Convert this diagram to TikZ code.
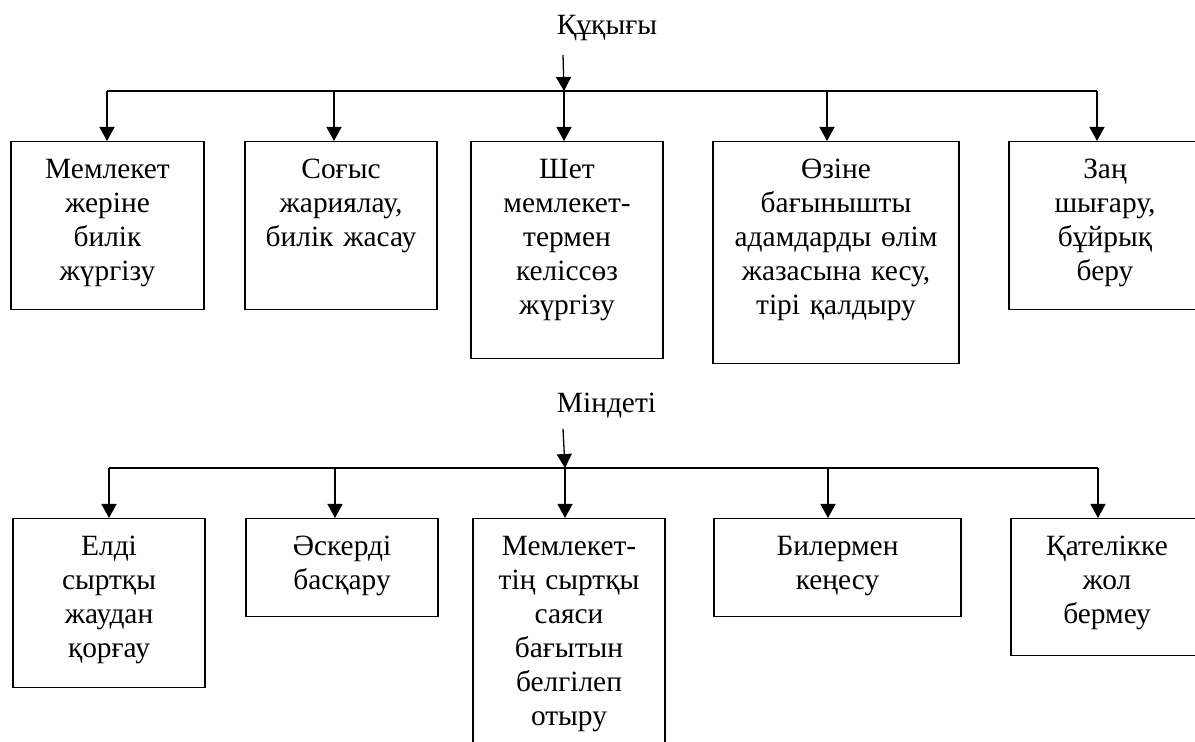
\documentclass[tikz,border=0pt]{standalone}
\usepackage{fontspec}
\setmainfont{Liberation Serif}
\usetikzlibrary{arrows.meta}

\begin{document}
\begin{tikzpicture}[x=0.5pt,y=-0.5pt,
  font=\fontsize{14.7}{17}\selectfont,
  line width=0.65pt,
  box/.style={draw,anchor=north,inner sep=0pt,align=center,text width=#1,text height=18.5pt},
  box/.default=96pt,
  arr/.style={-{Triangle[width=7.5pt,length=7pt]}}]
\useasboundingbox (0,0) rectangle (1195,742);

% top half
\node[anchor=base] (rights) at (607,35) {Құқығы};

\node[box=96.5pt,text depth=65.5pt] (t1) at (107.5,141) {Мемлекет\\жеріне\\билік\\жүргізу};
\node[box,text depth=65.5pt] (t2) at (341,141) {Соғыс\\жариялау,\\билік жасау};
\node[box,text depth=90pt] (t3) at (567,141) {Шет\\мемлекет-\\термен\\келіссөз\\жүргізу};
\node[box=123pt,text depth=92.5pt] (t4) at (836,141) {Өзіне\\бағынышты\\адамдарды өлім\\жазасына кесу,\\тірі қалдыру};
\node[box,text depth=65.5pt] (t5) at (1105,141) {Заң\\шығару,\\бұйрық\\беру};

\coordinate (r0) at (563,55);
\coordinate (r1) at (107,91);
\coordinate (r2) at (334,91);
\coordinate (r3) at (564,91);
\coordinate (r4) at (827,91);
\coordinate (r5) at (1097,91);

\path[draw] (r1) -- (r5);
\path[draw,arr] (r0) -- (r3);
\path[draw,arr] (r1) -- (r1 |- t1.north);
\path[draw,arr] (r2) -- (r2 |- t2.north);
\path[draw,arr] (r3) -- (r3 |- t3.north);
\path[draw,arr] (r4) -- (r4 |- t4.north);
\path[draw,arr] (r5) -- (r5 |- t5.north);

% bottom half
\node[anchor=base] (duty) at (606.5,413) {Міндеті};

\node[box,text depth=66pt] (b1) at (109,518) {Елді\\сыртқы\\жаудан\\қорғау};
\node[box,text depth=30.5pt] (b2) at (342,518) {Әскерді\\басқару};
\node[box,text depth=111.5pt] (b3) at (569,518) {Мемлекет-\\тің сыртқы\\саяси\\бағытын\\белгілеп\\отыру};
\node[box=123.5pt,text depth=30.5pt] (b4) at (837.5,518) {Билермен\\кеңесу};
\node[box,text depth=50pt] (b5) at (1107,518) {Қателікке\\жол\\бермеу};

\coordinate (d0) at (563,429);
\coordinate (d1) at (109,468);
\coordinate (d2) at (335,468);
\coordinate (d3) at (565,468);
\coordinate (d4) at (828,468);
\coordinate (d5) at (1098,468);

\path[draw] (d1) -- (d5);
\path[draw,arr] (d0) -- (d3);
\path[draw,arr] (d1) -- (d1 |- b1.north);
\path[draw,arr] (d2) -- (d2 |- b2.north);
\path[draw,arr] (d3) -- (d3 |- b3.north);
\path[draw,arr] (d4) -- (d4 |- b4.north);
\path[draw,arr] (d5) -- (d5 |- b5.north);
\end{tikzpicture}
\end{document}
